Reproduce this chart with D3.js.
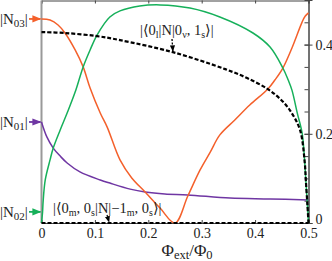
<!DOCTYPE html>
<html>
<head>
<meta charset="utf-8">
<script src="https://cdn.jsdelivr.net/npm/d3@7"></script>
<style>
  body { margin: 0; background: #fff; }
  text { font-family: "Liberation Serif", "DejaVu Serif", serif; fill: #222; }
</style>
</head>
<body>
<div id="grafico"></div>
<script>
// datos (x = Phi_ext/Phi_0)
const xOrange = [0, 0.016, 0.031, 0.044, 0.063, 0.078, 0.091, 0.110, 0.123, 0.147, 0.169, 0.194, 0.222, 0.250, 0.274, 0.297, 0.316, 0.334, 0.362, 0.390, 0.424, 0.437, 0.452, 0.469, 0.488, 0.494, 0.5];
const yOrange = [0.915, 0.910, 0.888, 0.852, 0.776, 0.700, 0.605, 0.493, 0.430, 0.283, 0.202, 0.139, 0.067, 0, 0.121, 0.238, 0.318, 0.395, 0.462, 0.529, 0.601, 0.641, 0.695, 0.785, 0.901, 0.928, 0.942];

const xGreen = [0, 0.002, 0.003, 0.007, 0.016, 0.022, 0.035, 0.048, 0.063, 0.078, 0.091, 0.104, 0.128, 0.147, 0.184, 0.222, 0.278, 0.334, 0.396, 0.428, 0.452, 0.462, 0.469, 0.479, 0.488, 0.492, 0.495, 0.498, 0.5];
const yGreen = [0, 0.05, 0.094, 0.193, 0.283, 0.336, 0.417, 0.493, 0.587, 0.700, 0.776, 0.843, 0.924, 0.951, 0.973, 0.978, 0.964, 0.924, 0.852, 0.789, 0.695, 0.641, 0.596, 0.493, 0.404, 0.305, 0.193, 0.081, 0];

const xPurple = [0, 0.010, 0.022, 0.035, 0.048, 0.072, 0.110, 0.128, 0.166, 0.194, 0.231, 0.274, 0.353, 0.428, 0.5];
const yPurple = [0.453, 0.386, 0.336, 0.300, 0.269, 0.229, 0.193, 0.179, 0.152, 0.139, 0.130, 0.126, 0.112, 0.108, 0.103];

// elementos de matriz (eje derecho)
const xElem1 = [0, 0.044, 0.104, 0.147, 0.246, 0.344, 0.385, 0.424, 0.447, 0.465, 0.484, 0.493, 0.495, 0.498, 0.5];
const yElem1 = [0.428, 0.426, 0.419, 0.410, 0.383, 0.345, 0.325, 0.300, 0.278, 0.253, 0.209, 0.135, 0.096, 0.040, 0];
const xElem2 = [0, 0.5];
const yElem2 = [0, 0];

const xTicks = [0, 0.1, 0.2, 0.3, 0.4, 0.5];
const rightTicks = [0, 0.2, 0.4];
const rightMinor = [0.05, 0.1, 0.15, 0.25, 0.3, 0.35, 0.45];

const width = 332, height = 261;
const mLeft = 41.5, mRight = 308.5, mTop = 0.5, mBottom = 223;

const cOrange = "#f4602b", cGreen = "#16b05a", cPurple = "#6f36a3";

const svg = d3.select("#grafico").append("svg")
  .attr("width", width).attr("height", height);

const x = d3.scaleLinear().domain([0, 0.5]).range([mLeft, mRight]);
const yL = d3.scaleLinear().domain([0, 1]).range([mBottom, 0]);
const yR = d3.scaleLinear().domain([0, 0.5]).range([mBottom, 0]);

// marcos y ticks
const axBottom = svg.append("g").attr("transform", `translate(0,${mBottom})`)
  .call(d3.axisBottom(x).tickValues(xTicks).tickSize(-3).tickPadding(5).tickFormat(d3.format("")));
const axTop = svg.append("g").attr("transform", `translate(0,${mTop})`)
  .call(d3.axisTop(x).tickValues(xTicks).tickSize(-3).tickFormat(""));
const axRight = svg.append("g").attr("transform", `translate(${mRight},0)`)
  .call(d3.axisRight(yR).tickValues(rightTicks).tickSize(4).tickPadding(3).tickFormat(d3.format("")));
const axRightMinor = svg.append("g").attr("transform", `translate(${mRight},0)`)
  .call(d3.axisRight(yR).tickValues(rightMinor.concat(rightTicks)).tickSize(-4).tickFormat(""));

[axBottom, axTop, axRight, axRightMinor].forEach(g => {
  g.select(".domain").attr("stroke", "#444").attr("stroke-width", 1);
  g.selectAll(".tick line").attr("stroke", "#444");
  g.selectAll(".tick text").attr("font-size", 14).attr("fill", "#222");
});
axRight.selectAll(".tick line").attr("x1", -4);
// el "0" derecho algo mas arriba, como en la figura
axRight.selectAll(".tick text").filter(d => d === 0).attr("y", -4);

// eje izquierdo gris
svg.append("line")
  .attr("x1", mLeft).attr("x2", mLeft).attr("y1", mTop).attr("y2", mBottom)
  .attr("stroke", "#999").attr("stroke-width", 2);

const lineL = d3.line().x(d => x(d[0])).y(d => yL(d[1])).curve(d3.curveCatmullRom);
const lineR = d3.line().x(d => x(d[0])).y(d => yR(d[1])).curve(d3.curveCatmullRom);

const zip = (a, b) => a.map((v, i) => [v, b[i]]);

svg.append("path").datum(zip(xPurple, yPurple)).attr("d", lineL)
  .attr("fill", "none").attr("stroke", cPurple).attr("stroke-width", 1.5);
svg.append("path").datum(zip(xOrange, yOrange)).attr("d", lineL)
  .attr("fill", "none").attr("stroke", cOrange).attr("stroke-width", 1.5);
svg.append("path").datum(zip(xGreen, yGreen)).attr("d", lineL)
  .attr("fill", "none").attr("stroke", cGreen).attr("stroke-width", 1.5);
svg.append("path").datum(zip(xElem2, yElem2)).attr("d", lineR)
  .attr("fill", "none").attr("stroke", "#000").attr("stroke-width", 2).attr("stroke-dasharray", "4,2");
svg.append("path").datum(zip(xElem1, yElem1)).attr("d", lineR)
  .attr("fill", "none").attr("stroke", "#000").attr("stroke-width", 2.2).attr("stroke-dasharray", "4,2");

// flechas
const defs = svg.append("defs");
function marker(id, color) {
  defs.append("marker").attr("id", id).attr("viewBox", "0 0 10 10")
    .attr("refX", 9).attr("refY", 5).attr("markerWidth", 5).attr("markerHeight", 5)
    .attr("orient", "auto")
    .append("path").attr("d", "M0,1 L10,5 L0,9 z").attr("fill", color);
}
marker("aO", cOrange); marker("aG", cGreen); marker("aP", cPurple); marker("aK", "#000");

const etiquetas = [
  { sub: "03", v: yOrange[0], color: cOrange, id: "aO" },
  { sub: "01", v: yPurple[0], color: cPurple, id: "aP" },
  { sub: "02", v: 0.05, color: cGreen, id: "aG" }
];
etiquetas.forEach(e => {
  const yy = yL(e.v);
  const t = svg.append("text").attr("x", 0).attr("y", yy + 5).attr("font-size", 15);
  t.append("tspan").text("|N");
  t.append("tspan").attr("font-size", 11).attr("dy", 3).text(e.sub);
  t.append("tspan").attr("dy", -3).text("|");
  svg.append("line").attr("x1", 29).attr("x2", mLeft - 1).attr("y1", yy).attr("y2", yy)
    .attr("stroke", e.color).attr("stroke-width", 1.8).attr("marker-end", `url(#${e.id})`);
});

// anotaciones
const t1 = svg.append("text").attr("x", 140).attr("y", 35).attr("font-size", 14.5);
t1.append("tspan").text("|⟨0");
t1.append("tspan").attr("font-size", 10).attr("dy", 3).text("l");
t1.append("tspan").attr("dy", -3).text("|N|0");
t1.append("tspan").attr("font-size", 10).attr("dy", 3).text("ν");
t1.append("tspan").attr("dy", -3).text(", 1");
t1.append("tspan").attr("font-size", 10).attr("dy", 3).text("s");
t1.append("tspan").attr("dy", -3).text("⟩|");
svg.append("line").attr("x1", 172).attr("y1", 39).attr("x2", x(0.246)).attr("y2", yR(0.383) - 1)
  .attr("stroke", "#000").attr("stroke-width", 1.3).attr("stroke-dasharray", "2,1.5").attr("marker-end", "url(#aK)");

const t2 = svg.append("text").attr("x", 53).attr("y", 213).attr("font-size", 14.5);
t2.append("tspan").text("|⟨0");
t2.append("tspan").attr("font-size", 10).attr("dy", 3).text("m");
t2.append("tspan").attr("dy", -3).text(", 0");
t2.append("tspan").attr("font-size", 10).attr("dy", 3).text("s");
t2.append("tspan").attr("dy", -3).text("|N|−1");
t2.append("tspan").attr("font-size", 10).attr("dy", 3).text("m");
t2.append("tspan").attr("dy", -3).text(", 0");
t2.append("tspan").attr("font-size", 10).attr("dy", 3).text("s");
t2.append("tspan").attr("dy", -3).text("⟩|");
svg.append("line").attr("x1", 107).attr("y1", 215).attr("x2", 109).attr("y2", mBottom - 1)
  .attr("stroke", "#000").attr("stroke-width", 1.3).attr("stroke-dasharray", "2,1.5").attr("marker-end", "url(#aK)");

// titulo eje x
const tx = svg.append("text").attr("x", 187).attr("y", 256).attr("font-size", 17).attr("text-anchor", "middle");
tx.append("tspan").text("Φ");
tx.append("tspan").attr("font-size", 12.5).attr("dy", 2.5).text("ext");
tx.append("tspan").attr("dy", -2.5).text("/Φ");
tx.append("tspan").attr("font-size", 12.5).attr("dy", 2.5).text("0");
</script>
</body>
</html>
